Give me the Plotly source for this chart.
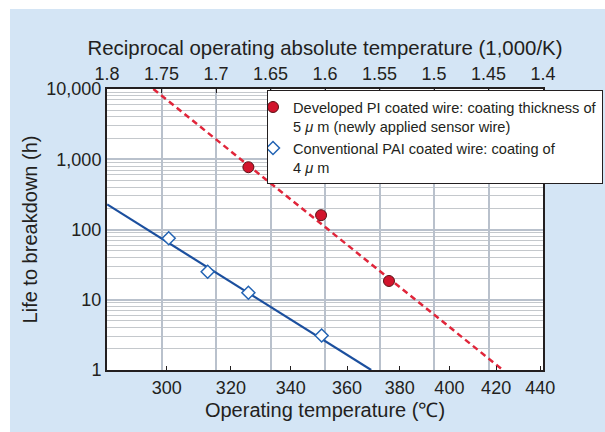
import plotly.graph_objects as go

# ---- data ----
pi_temp = [325.7, 350.6, 375.8]          # Developed PI coated wire, °C
pi_life = [770, 160, 18.5]               # hours
pai_temp = [300.6, 312.6, 325.7, 350.8]  # Conventional PAI coated wire, °C
pai_life = [75, 25, 12.6, 3.1]           # hours
pi_fit_temp = [296.0, 423.0]
pi_fit_life = [10000, 1]
pai_fit_temp = [282.6, 369.0]
pai_fit_life = [228, 1]

top_ticks = [1.8, 1.75, 1.7, 1.65, 1.6, 1.55, 1.5, 1.45, 1.4]
top_labels = ["1.8", "1.75", "1.7", "1.65", "1.6", "1.55", "1.5", "1.45", "1.4"]
bottom_ticks = [300, 320, 340, 360, 380, 400, 420, 440]
y_ticks = [1, 10, 100, 1000, 10000]
y_labels = ["1", "10", "100", "1,000", "10,000"]

KELVIN = 273


def recip(temps):
    return [1000.0 / (t + KELVIN) for t in temps]


FONT = "Liberation Sans, Arial, sans-serif"
TXT = "#231f20"
RED = "#d2142c"
RED_LINE = "#e0253a"
BLUE = "#1b4f9e"
BLUE_MK = "#2263b3"
GRID = "#b9c1cc"
MINOR = "#c4c8cc"
PANEL = "#d4e5f5"

fig = go.Figure()

fig.add_trace(go.Scatter(
    x=recip(pi_fit_temp), y=pi_fit_life, mode="lines",
    line=dict(color=RED_LINE, width=2.5, dash="6px,4px"),
    showlegend=False, hoverinfo="skip"))
fig.add_trace(go.Scatter(
    x=recip(pai_fit_temp), y=pai_fit_life, mode="lines",
    line=dict(color=BLUE, width=2.2),
    showlegend=False, hoverinfo="skip"))
fig.add_trace(go.Scatter(
    x=recip(pi_temp), y=pi_life, mode="markers", legendgroup="pi",
    marker=dict(symbol="circle", size=11, color=RED,
                line=dict(color="#5a1015", width=1)),
    name="Developed PI coated wire: coating thickness of<br>5 <i>μ</i> m (newly applied sensor wire)"))
fig.add_trace(go.Scatter(
    x=recip(pai_temp), y=pai_life, mode="markers", legendgroup="pai",
    marker=dict(symbol="diamond", size=10, color="white",
                line=dict(color=BLUE_MK, width=1.5)),
    name="Conventional PAI coated wire: coating of<br>4 <i>μ</i> m"))
# invisible trace to activate the bottom (temperature) axis
fig.add_trace(go.Scatter(
    x=recip([bottom_ticks[0], bottom_ticks[-1]]), y=[1, 1], xaxis="x2",
    mode="lines", line=dict(width=0), showlegend=False, hoverinfo="skip"))

fig.update_layout(
    width=605, height=432,
    margin=dict(l=107, r=62, t=89, b=62, autoexpand=False),
    paper_bgcolor=PANEL, plot_bgcolor="white",
    font=dict(family=FONT, color=TXT, size=18),
    xaxis=dict(
        side="top", range=[1.8, 1.4], tickvals=top_ticks, ticktext=top_labels,
        showgrid=True, gridcolor=GRID, gridwidth=1.5, automargin=False,
        ticks="inside", ticklen=4, tickcolor=TXT,
        showline=True, linecolor=TXT, linewidth=2, mirror=True,
        zeroline=False, tickfont=dict(size=18),
        title=dict(text="Reciprocal operating absolute temperature (1,000/K)",
                   font=dict(size=20.4), standoff=3),
    ),
    xaxis2=dict(
        overlaying="x", side="bottom", anchor="y", range=[1.8, 1.4],
        tickvals=recip(bottom_ticks), ticktext=[str(t) for t in bottom_ticks],
        showgrid=False, ticks="inside", ticklen=4, tickcolor=TXT, automargin=False,
        showline=True, linecolor=TXT, linewidth=2, zeroline=False,
        tickfont=dict(size=18),
        title=dict(text="Operating temperature (℃)", font=dict(size=20), standoff=6),
    ),
    yaxis=dict(
        type="log", range=[0, 4], tickvals=y_ticks, ticktext=y_labels,
        showgrid=True, gridcolor=GRID, gridwidth=1.5, automargin=False,
        minor=dict(dtick="D1", showgrid=True, gridcolor=MINOR, gridwidth=1, ticks=""),
        ticks="", showline=True, linecolor=TXT, linewidth=2, mirror=True,
        zeroline=False, tickfont=dict(size=18),
        title=dict(text="Life to breakdown (h)", font=dict(size=20), standoff=3),
    ),
    legend=dict(
        x=(267 - 107) / 436, y=(370 - 90) / 281, xanchor="left", yanchor="top",
        bgcolor="white", bordercolor=TXT, borderwidth=1,
        font=dict(size=14.6, color=TXT), valign="top", indentation=-15,
        tracegroupgap=0,
    ),
    shapes=[
        dict(type="rect", xref="paper", yref="paper", layer="above",
             x0=-107 / 436, x1=(605 - 107) / 436, y0=(370 - 9) / 281, y1=370 / 281,
             fillcolor="white", line=dict(width=0)),
        dict(type="rect", xref="paper", yref="paper", layer="above",
             x0=-107 / 436, x1=-97 / 436, y0=-62 / 281, y1=370 / 281,
             fillcolor="white", line=dict(width=0)),
    ],
)

fig.write_html("out.html", config={"displayModeBar": False},
               post_script="document.body.style.margin='0';document.body.style.overflow='hidden';")
